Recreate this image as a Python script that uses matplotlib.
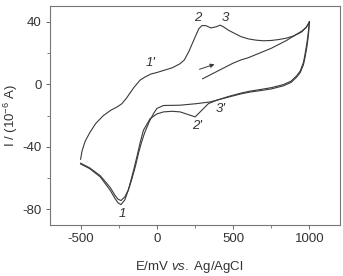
import numpy as np
import matplotlib.pyplot as plt
from matplotlib.ticker import MultipleLocator

plt.rcParams['font.family'] = ['Liberation Sans', 'DejaVu Sans']
plt.rcParams['mathtext.fontset'] = 'custom'
plt.rcParams['mathtext.rm'] = 'Liberation Sans'
plt.rcParams['mathtext.it'] = 'Liberation Sans:italic'
plt.rcParams['axes.unicode_minus'] = False

# initial sweep 300 -> 1000 mV
E_init = [300, 330, 370, 400, 450, 500, 550, 600, 650, 700, 750, 800, 850, 900, 950, 980, 1000]
I_init = [3.5, 5, 7, 8.5, 11, 13.5, 15.5, 17, 19, 21, 23, 25.5, 28, 31, 34, 36.5, 39.5]

# cathodic branch with 2' / 3' features (1000 -> -500 mV)
E_cat_b = [1000, 995, 990, 983, 970, 961, 940, 917, 880, 830, 750, 677, 611, 550, 470, 393, 338, 295, 251, 218, 153, 100, 43, 0, -44, -88, -110, -130, -150, -170, -190, -210, -235, -255, -275, -306, -371, -440, -500]
I_cat_b = [40, 35, 31, 26, 18.5, 14, 8.5, 5.5, 2, -0.2, -2.2, -3.4, -4.4, -5.7, -7.8, -10.2, -12.4, -16.6, -20.9, -19.8, -17.7, -17.3, -17.7, -19, -22, -29.4, -37.5, -46, -54, -61.5, -68.5, -74, -77, -75.8, -73, -67.8, -59.3, -54, -51]

# second cathodic branch (smooth)
E_cat_a = [1000, 995, 990, 983, 970, 961, 940, 917, 880, 830, 750, 677, 611, 550, 470, 393, 349, 262, 153, 43, 0, -22, -50, -80, -100, -120, -142, -165, -186, -210, -235, -255, -275, -306, -371, -440, -500]
I_cat_a = [40, 33, 28.5, 23.5, 16.5, 12.5, 7.5, 4.6, 1.2, -1, -3, -4.1, -5, -6.2, -8.2, -10.2, -11.3, -12.4, -13.4, -13.6, -15.5, -18.8, -24, -31, -37, -44, -53, -61, -67.5, -72, -74.4, -73.5, -71, -66, -58.5, -53.5, -50.5]

# anodic sweep -500 -> 1000 mV
E_an = [-500, -490, -470, -440, -400, -350, -300, -260, -230, -200, -150, -110, -80, -40, 0, 50, 100, 150, 180, 210, 250, 275, 295, 320, 355, 390, 415, 440, 470, 500, 550, 600, 650, 700, 750, 800, 850, 900, 950, 980, 1000]
I_an = [-48, -42.5, -36.5, -31, -25, -20, -16.5, -14.5, -12.5, -9, -2, 2.6, 4.5, 6.5, 7.5, 9, 10.5, 13, 15.5, 21, 30, 35.5, 37.5, 37.5, 36, 36.8, 37.8, 36.5, 34.5, 33, 30.5, 29, 28.2, 27.8, 28, 28.6, 29.5, 31, 33.5, 36.5, 40]

fig = plt.figure(figsize=(3.43, 2.76), dpi=100)
ax = fig.add_axes([0.146, 0.185, 0.845, 0.793])

lc = '#3a3a3a'
lw = 0.8
ax.plot(E_init, I_init, color=lc, lw=lw)
ax.plot(E_cat_b, I_cat_b, color=lc, lw=lw)
ax.plot(E_an, I_an, color=lc, lw=lw)
ax.plot(E_cat_a, I_cat_a, color=lc, lw=lw)

ax.annotate('', xy=(395, 13.3), xytext=(262, 9),
            arrowprops=dict(arrowstyle='-|>', color=lc, lw=0.7, mutation_scale=6))

tc = '#333333'
lab = dict(fontsize=9.5, style='italic', color=tc, ha='center', va='center')
ax.text(271, 42.5, '2', **lab)
ax.text(448, 42.5, '3', **lab)
ax.text(-44, 13.5, "1'", **lab)
ax.text(262, -26.5, "2'", **lab)
ax.text(415, -16, "3'", **lab)
ax.text(-223, -83, '1', **lab)

ax.set_xlim(-700, 1200)
ax.set_ylim(-90, 50)
ax.xaxis.set_major_locator(MultipleLocator(500))
ax.xaxis.set_minor_locator(MultipleLocator(250))
ax.yaxis.set_major_locator(MultipleLocator(40))
ax.yaxis.set_minor_locator(MultipleLocator(20))
ax.tick_params(which='major', direction='out', length=3, width=0.7, colors='#666666',
               labelcolor=tc, labelsize=9.5, pad=3)
ax.tick_params(which='minor', direction='out', length=2, width=0.6, colors='#666666')
for s in ax.spines.values():
    s.set_color('#777777')
    s.set_linewidth(0.8)

ax.set_xlabel(r'E/mV $\mathit{vs.}$ Ag/AgCl', fontsize=9.5, color=tc)
ax.set_ylabel(r'I / (10$^{-6}$ A)', fontsize=9.5, color=tc)
ax.xaxis.set_label_coords(0.48, -0.155)
ax.yaxis.set_label_coords(-0.105, 0.5)

fig.savefig('out.png', dpi=100)
